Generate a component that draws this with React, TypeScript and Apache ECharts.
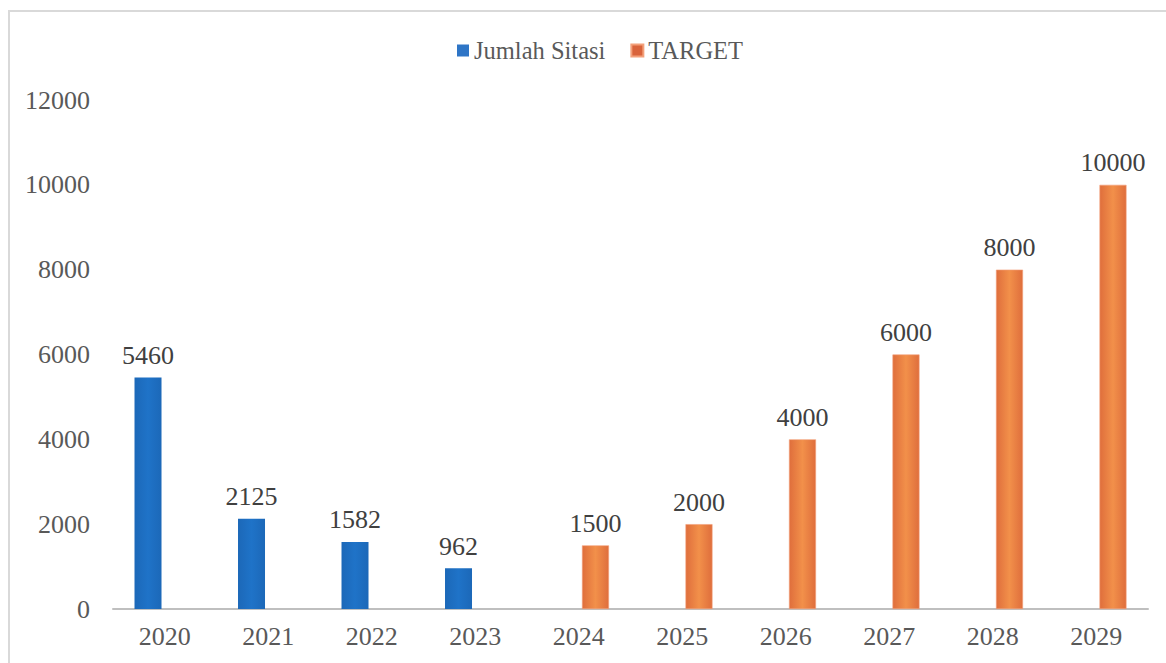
import React, { useEffect, useRef } from "react";
import * as echarts from "echarts";

const categories = ["2020", "2021", "2022", "2023", "2024", "2025", "2026", "2027", "2028", "2029"];
const sitasiValues = [5460, 2125, 1582, 962, null, null, null, null, null, null];
const targetValues = [null, null, null, null, 1500, 2000, 4000, 6000, 8000, 10000];
const yTicks = { min: 0, max: 12000, interval: 2000 };

const FONT = "'Liberation Serif', 'DejaVu Serif', serif";
const FS = 26;

export default function App() {
  const ref = useRef<HTMLDivElement>(null);
  useEffect(() => {
    if (!ref.current) return;
    const chart = echarts.init(ref.current, null, { renderer: "svg" });
    const blueGrad = new echarts.graphic.LinearGradient(0, 0, 1, 0, [
      { offset: 0, color: "#1c68b8" },
      { offset: 0.5, color: "#1f73c8" },
      { offset: 1, color: "#1c68b8" },
    ]);
    const orangeGrad = new echarts.graphic.LinearGradient(0, 0, 1, 0, [
      { offset: 0, color: "#df6e3c" },
      { offset: 0.5, color: "#f2904a" },
      { offset: 1, color: "#df6e3c" },
    ]);
    const label = {
      show: true,
      position: "top",
      distance: 9,
      fontFamily: FONT,
      fontSize: FS,
      color: "#404040",
    };
    chart.setOption({
      animation: false,
      textStyle: { fontFamily: FONT },
      legend: {
        top: 33,
        left: 452,
        itemWidth: 12,
        itemHeight: 12,
        itemGap: 25,
        icon: "rect",
        textStyle: { fontFamily: FONT, fontSize: 24.5, color: "#595959" },
        data: [
          { name: "Jumlah Sitasi", itemStyle: { color: "#2e75c6" } },
          { name: "TARGET", itemStyle: { color: "#d9633b" } },
        ],
      },
      grid: { left: 113, right: 18, top: 100, bottom: 54 },
      xAxis: {
        type: "category",
        data: categories,
        axisLine: { lineStyle: { color: "#bfbfbf", width: 2 } },
        axisTick: { show: false },
        axisLabel: { fontFamily: FONT, fontSize: FS, color: "#595959", margin: 14 },
      },
      yAxis: {
        type: "value",
        min: yTicks.min,
        max: yTicks.max,
        interval: yTicks.interval,
        splitLine: { show: false },
        axisLine: { show: false },
        axisTick: { show: false },
        axisLabel: {
          fontFamily: FONT,
          fontSize: FS,
          color: "#595959",
          margin: 23,
          formatter: (v: number) => String(v),
        },
      },
      series: [
        {
          name: "Jumlah Sitasi",
          type: "bar",
          data: sitasiValues,
          barWidth: 27,
          barGap: "24%",
          itemStyle: { color: blueGrad },
          label,
        },
        {
          name: "TARGET",
          type: "bar",
          data: targetValues,
          barWidth: 27,
          barGap: "24%",
          itemStyle: { color: orangeGrad, borderColor: "#f3a07a", borderWidth: 0.6 },
          label,
        },
      ],
    });
    return () => chart.dispose();
  }, []);
  return (
    <div style={{ position: "absolute", left: 0, top: 0, width: 1166, height: 663, background: "#fff" }}>
      <div
        style={{
          position: "absolute",
          left: 8,
          top: 10,
          width: 1200,
          height: 700,
          borderLeft: "2px solid #d9d9d9",
          borderTop: "2px solid #d9d9d9",
        }}
      />
      <div ref={ref} style={{ position: "absolute", left: 0, top: 0, width: 1166, height: 663 }} />
    </div>
  );
}
